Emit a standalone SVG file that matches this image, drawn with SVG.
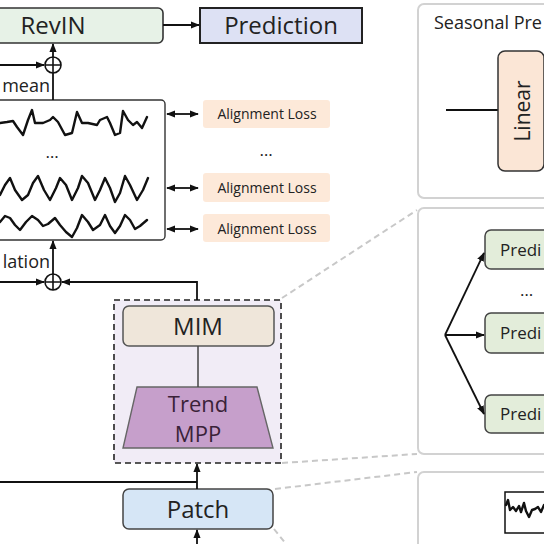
<svg xmlns="http://www.w3.org/2000/svg" width="544" height="544" viewBox="0 0 544 544">
<defs>
<style>
text{font-family:"Open Sans","Noto Sans","DejaVu Sans",sans-serif;fill:#222}
.big{font-size:24px}
.med{font-size:17px}
.sm{font-size:14px}
.ln{stroke:#111;stroke-width:1.8;fill:none}
.gd{stroke:#c8c8c8;stroke-width:2;fill:none;stroke-dasharray:6 4}
.panel{fill:#fff;stroke:#d2d2d2;stroke-width:2}
.wave{fill:none;stroke:#111;stroke-width:2.4;stroke-linejoin:round;stroke-linecap:round}
.loss{fill:#fde9d9}
</style>
<marker id="ah" viewBox="0 0 10 10" refX="9" refY="5" markerWidth="9" markerHeight="9" orient="auto-start-reverse" markerUnits="userSpaceOnUse">
<path d="M0,1 L10,5 L0,9 z" fill="#111"/>
</marker>
</defs>

<!-- right panels -->
<g id="panel-seasonal">
<rect class="panel" x="418" y="4" width="140" height="194" rx="6"/>
<text x="434" y="29" font-size="18">Seasonal Pre</text>
<line class="ln" x1="446" y1="110" x2="498" y2="110" stroke-width="1.5"/>
<g id="linear">
<rect x="498" y="51" width="46" height="120" rx="7" fill="#fbe6d6" stroke="#333" stroke-width="1.5"/>
<text font-size="21" transform="translate(530,111) rotate(-90)" text-anchor="middle">Linear</text>
</g>
</g>

<g id="panel-heads">
<rect class="panel" x="418" y="208" width="140" height="246" rx="6"/>
<g id="predi1"><rect x="485" y="230" width="70" height="39" rx="6" fill="#e3edda" stroke="#444" stroke-width="1.5"/><text class="med" x="500" y="256">Predi</text></g>
<text class="med" x="520" y="296">…</text>
<g id="predi2"><rect x="485" y="313" width="70" height="40" rx="6" fill="#e3edda" stroke="#444" stroke-width="1.5"/><text class="med" x="500" y="339">Predi</text></g>
<g id="predi3"><rect x="485" y="395" width="70" height="38" rx="6" fill="#e3edda" stroke="#444" stroke-width="1.5"/><text class="med" x="500" y="420">Predi</text></g>
</g>

<g id="panel-patch">
<rect class="panel" x="418" y="472" width="140" height="90" rx="6"/>
<rect x="505" y="492" width="50" height="41" fill="#fff" stroke="#111" stroke-width="1.5"/>
<polyline class="wave" stroke-width="1.6" points="506,505 508,500 510,510 513,507 516,511 519,506 521,512 524,503 526,511 529,517 532,510 535,509 538,507 541,512 544,505"/>
</g>

<!-- gray dashed guides -->
<g id="guides">
<line class="gd" x1="282" y1="298" x2="417" y2="210"/>
<line class="gd" x1="282" y1="463" x2="417" y2="454"/>
<line class="gd" x1="275" y1="489" x2="417" y2="472"/>
<line class="gd" x1="274" y1="529" x2="286" y2="544"/>
</g>

<!-- plus nodes -->
<g id="plus-top">
<circle cx="53" cy="65" r="8" fill="#fff" stroke="#111" stroke-width="1.6"/>
<path d="M45,65 H61 M53,57 V73" stroke="#111" stroke-width="1.6"/>
</g>
<g id="plus-bottom">
<circle cx="53" cy="282" r="8" fill="#fff" stroke="#111" stroke-width="1.6"/>
<path d="M45,282 H61 M53,274 V290" stroke="#111" stroke-width="1.6"/>
</g>
<text x="50" y="92" text-anchor="end" font-size="18">mean</text>
<text x="50" y="268" text-anchor="end" font-size="18">lation</text>

<g id="revin">
<rect x="-10" y="8" width="173" height="35" rx="5" fill="#e7f2e7" stroke="#333" stroke-width="1.6"/>
<text class="big" x="53" y="34" text-anchor="middle">RevIN</text>
</g>
<g id="prediction">
<rect x="200" y="8" width="162" height="35" fill="#dde1f4" stroke="#222" stroke-width="2"/>
<text class="big" x="281" y="34" text-anchor="middle">Prediction</text>
</g>

<g id="series">
<rect x="-10" y="100" width="175" height="140" rx="4" fill="#fff" stroke="#333" stroke-width="1.4"/>
<polyline class="wave" points="0,123 7,122 13,121 17,127 23,135 28,120 32,110 35,123 43,123 50,120 53,117 58,122 65,135 72,133 77,112 82,123 88,123 97,125 100,120 107,117 110,123 115,135 120,133 123,111 128,120 133,125 137,122 142,128 147,117"/>
<text class="med" x="52" y="158" text-anchor="middle">…</text>
<polyline class="wave" points="0,195 5,185 10,178 15,190 22,200 28,195 33,183 38,176 44,190 50,200 56,188 60,178 66,185 72,200 78,188 82,176 88,183 95,200 100,190 105,178 110,188 115,202 120,193 125,176 130,185 137,200 143,190 148,178"/>
<polyline class="wave" points="0,222 5,216 10,218 15,225 20,230 26,222 32,216 38,220 43,226 48,224 55,218 60,225 66,232 72,237 77,228 82,215 88,222 93,230 100,225 105,215 110,226 115,233 120,226 125,215 130,220 135,229 140,226 147,220"/>
</g>

<g id="loss1"><rect class="loss" x="203" y="100" width="127" height="28" rx="3"/><text class="sm" x="267" y="119" text-anchor="middle">Alignment Loss</text></g>
<text class="med" x="266" y="156" text-anchor="middle">…</text>
<g id="loss2"><rect class="loss" x="203" y="173" width="127" height="29" rx="3"/><text class="sm" x="267" y="193" text-anchor="middle">Alignment Loss</text></g>
<g id="loss3"><rect class="loss" x="203" y="214" width="127" height="28" rx="3"/><text class="sm" x="267" y="234" text-anchor="middle">Alignment Loss</text></g>

<g id="trend-block">
<rect x="114" y="300" width="167" height="163" fill="#f1ecf6" stroke="#222" stroke-width="1.6" stroke-dasharray="6 4"/>
<g id="mim">
<rect x="123" y="306" width="151" height="40" rx="6" fill="#efe6da" stroke="#555" stroke-width="1.5"/>
<text class="big" x="198" y="335" text-anchor="middle">MIM</text>
</g>
<g id="trend-mpp">
<polygon points="137,387 257,387 273,448 123,448" fill="#c69fcb" stroke="#666" stroke-width="1.4"/>
<text x="198" y="412" font-size="22" text-anchor="middle" style="fill:#3a2238">Trend</text>
<text x="198" y="442" font-size="22" text-anchor="middle" style="fill:#3a2238">MPP</text>
</g>
</g>

<g id="patch">
<rect x="123" y="489" width="150" height="40" rx="6" fill="#d6e6f6" stroke="#444" stroke-width="1.5"/>
<text class="big" x="198" y="518" text-anchor="middle">Patch</text>
</g>

<!-- connectors -->
<g id="connectors">
<line class="ln" x1="163" y1="25" x2="199" y2="25" marker-end="url(#ah)"/>
<line class="ln" x1="53" y1="57" x2="53" y2="44" marker-end="url(#ah)"/>
<line class="ln" x1="0" y1="65" x2="44" y2="65" marker-end="url(#ah)"/>
<line class="ln" x1="53" y1="73" x2="53" y2="100"/>
<line class="ln" x1="167" y1="114" x2="198" y2="114" marker-start="url(#ah)" marker-end="url(#ah)"/>
<line class="ln" x1="167" y1="188" x2="198" y2="188" marker-start="url(#ah)" marker-end="url(#ah)"/>
<line class="ln" x1="167" y1="229" x2="198" y2="229" marker-start="url(#ah)" marker-end="url(#ah)"/>
<line class="ln" x1="53" y1="274" x2="53" y2="241" marker-end="url(#ah)"/>
<line class="ln" x1="0" y1="282" x2="44" y2="282" marker-end="url(#ah)"/>
<polyline class="ln" points="197,300 197,282 62,282" marker-end="url(#ah)"/>
<line x1="198" y1="346" x2="198" y2="387" stroke="#444" stroke-width="1.5"/>
<line class="ln" x1="197" y1="489" x2="197" y2="464" marker-end="url(#ah)"/>
<line class="ln" x1="0" y1="482" x2="197" y2="482"/>
<line class="ln" x1="197" y1="544" x2="197" y2="530" marker-end="url(#ah)"/>
<line class="ln" x1="445" y1="335" x2="484" y2="253" stroke-width="1.6" marker-end="url(#ah)"/>
<line class="ln" x1="445" y1="335" x2="484" y2="335" stroke-width="1.6" marker-end="url(#ah)"/>
<line class="ln" x1="445" y1="335" x2="484" y2="414" stroke-width="1.6" marker-end="url(#ah)"/>
</g>
</svg>
